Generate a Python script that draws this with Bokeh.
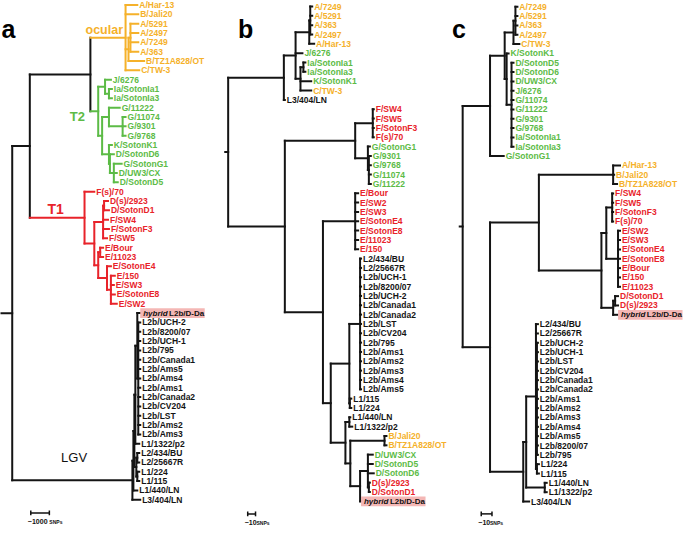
from bokeh.plotting import figure
from bokeh.models import ColumnDataSource, Range1d
from bokeh.core.properties import value
from bokeh.embed import file_html
from bokeh.resources import INLINE

# ---------------- data ----------------
OCULAR = ["A/Har-13", "B/Jali20", "A/5291", "A/2497", "A/7249", "A/363",
          "B/TZ1A828/OT", "C/TW-3"]
T2_STRAINS = ["J/6276", "Ia/SotonIa1", "Ia/SotonIa3", "G/11222", "G/11074",
              "G/9301", "G/9768", "K/SotonK1", "D/SotonD6", "G/SotonG1",
              "D/UW3/CX", "D/SotonD5"]
T1_STRAINS = ["F(s)/70", "D(s)/2923", "D/SotonD1", "F/SW4", "F/SotonF3",
              "F/SW5", "E/Bour", "E/11023", "E/SotonE4", "E/150", "E/SW3",
              "E/SotonE8", "E/SW2"]
HYBRID = "hybrid L2b/D-Da"

# Newick trees, branch lengths in tree units
TREE_A = (
    "(((('A/Har-13':12,'B/Jali20':13,(('A/5291':8,'A/2497':8,'A/7249':8,'A/363':8):2,'B/TZ1A828/OT':16):3,'C/TW-3':14):36,"
    "(('J/6276':6,('Ia/SotonIa1':3,'Ia/SotonIa3':3):4):7,(('G/11222':11,('G/11074':3,'G/9301':3,'G/9768':3):14):7,"
    "('K/SotonK1':3,('D/SotonD6':4,('G/SotonG1':8,'D/UW3/CX':3,'D/SotonD5':4):4):1):7):4):8):62,"
    "('F(s)/70':10,((('D(s)/2923':4,'D/SotonD1':5):1,'F/SW4':5,'F/SotonF3':6,'F/SW5':4):9,"
    "(('E/Bour':3,'E/11023':3):2,('E/SotonE4':4,('E/150':4,'E/SW3':3,'E/SotonE8':4,'E/SW2':6):4):9):4):10):56):18,"
    "((((('hybrid L2b/D-Da':3,('L2b/UCH-2':2,'L2b/8200/07':2,'L2b/UCH-1':2,'L2b/795':2,'L2b/Canada1':2,'L2b/Ams5':2,"
    "'L2b/Ams4':2,'L2b/Ams1':2,'L2b/Canada2':2,'L2b/CV204':2,'L2b/LST':2,'L2b/Ams2':2,'L2b/Ams3':2):1):2,'L1/1322/p2':4):1,"
    "(('L2/434/BU':2,'L2/25667R':2):1,('L1/224':2,'L1/115':2):1):2):1,'L1/440/LN':4):1,'L3/404/LN':8):123):12"
)
TREE_B = (
    "((((('A/7249':2,'A/5291':2,'A/363':2,'A/2497':2):1,'A/Har-13':5):14,'J/6276':7,"
    "(('Ia/SotonIa1':2,'Ia/SotonIa3':2):3,'K/SotonK1':11,'C/TW-3':11):5):12,'L3/404/LN':1):57,"
    "((('F/SW4':1,'F/SW5':1,'F/SotonF3':1,'F(s)/70':1):18,('G/SotonG1':2,('G/9301':2,'G/9768':2,'G/11074':2,'G/11222':2):1):13):72,"
    "(('E/Bour':3,'E/SW2':3,'E/SW3':3,'E/SotonE4':3,'E/SotonE8':3,'E/11023':3,'E/150':3):33,"
    "((('L2/434/BU':1,'L2/25667R':1,'L2b/UCH-1':1,'L2b/8200/07':1,'L2b/UCH-2':1,'L2b/Canada1':1,'L2b/Canada2':1,"
    "'L2b/LST':1,'L2b/CV204':1,'L2b/795':1,'L2b/Ams1':1,'L2b/Ams2':1,'L2b/Ams3':1,'L2b/Ams4':1,'L2b/Ams5':1):11,"
    "('L1/115':1.5,'L1/224':1.5):0.5):19,(('L1/440/LN':1,'L1/1322/p2':3):4,(('B/Jali20':2,'B/TZ1A828/OT':2):35,"
    "(('D/UW3/CX':5,'D/SotonD5':5,'D/SotonD6':6,('D(s)/2923':1,'D/SotonD1':1):1):8,'hybrid L2b/D-Da':1):10):5):15):8):39):58):3"
)
TREE_C = (
    "((((('A/7249':2,'A/5291':2,'A/363':2,'A/2497':2):2,'C/TW-3':6):9,('K/SotonK1':2,('D/SotonD5':2,'D/SotonD6':2,"
    "'D/UW3/CX':2,'J/6276':2,'G/11074':2,'G/11222':2,'G/9301':2,'G/9768':2,'Ia/SotonIa1':2,'Ia/SotonIa3':2):5):2):15,"
    "'G/SotonG1':14):28,((('A/Har-13':7,'B/Jali20':1,'B/TZ1A828/OT':4):76,((('F/SW4':1,'F/SW5':1,'F/SotonF3':1,'F(s)/70':1):6,"
    "('E/SW2':2,'E/SW3':2,'E/SotonE4':2,'E/SotonE8':2,'E/Bour':2,'E/150':2,'E/11023':2):12):5,"
    "(('D/SotonD1':3,'D(s)/2923':3):2,'hybrid L2b/D-Da':5):12):64):50,((('L2/434/BU':2,'L2/25667R':2,"
    "('L2b/UCH-2':1,'L2b/UCH-1':1,'L2b/LST':1,'L2b/CV204':1,'L2b/Canada1':1,'L2b/Canada2':1,'L2b/Ams1':1,'L2b/Ams2':1,"
    "'L2b/Ams3':1,'L2b/Ams4':1,'L2b/Ams5':1,'L2b/8200/07':1,'L2b/795':1):1,('L1/224':2,'L1/115':2):1):10,"
    "('L1/440/LN':2,'L1/1322/p2':2):19):3,'L3/404/LN':6):34):28):3"
)

SCALE_LEN = [19, 8, 11]
SCALE_TXT = ["~1000", "~10", "~10"]
PANEL_LETTERS = ["a", "b", "c"]
CLADE_LABELS = ["ocular", "T2", "T1", "LGV"]

# ---------------- styles ----------------
ORANGE = "#F5B12A"
GREEN = "#5CBB46"
RED = "#E8232A"
BLACK = "#141414"
FONT = "Liberation Sans"
LEAF_SIZE = "8.5px"
HYB_SIZE = "8px"


def parse_newick(s):
    s = s.strip().rstrip(";")
    pos = [0]

    def node():
        n = {"children": [], "name": None, "len": 0.0}
        if s[pos[0]] == "(":
            pos[0] += 1
            while True:
                n["children"].append(node())
                c = s[pos[0]]
                pos[0] += 1
                if c == ")":
                    break
        if pos[0] < len(s) and s[pos[0]] == "'":
            j = s.index("'", pos[0] + 1)
            n["name"] = s[pos[0] + 1:j]
            pos[0] = j + 1
        if pos[0] < len(s) and s[pos[0]] == ":":
            j = pos[0] + 1
            while j < len(s) and s[j] not in ",)":
                j += 1
            n["len"] = float(s[pos[0] + 1:j])
            pos[0] = j
        return n

    return node()


def leaf_color(name):
    if name in OCULAR:
        return ORANGE
    if name in T2_STRAINS:
        return GREEN
    if name in T1_STRAINS:
        return RED
    return BLACK


def layout(tree, x0, y0, dy, colored):
    root = parse_newick(tree)
    leaves = []

    def walk(n, px):
        n["px"] = px
        n["x"] = px + n["len"]
        if not n["children"]:
            n["y"] = y0 + dy * len(leaves)
            leaves.append(n)
            n["cols"] = {leaf_color(n["name"])}
        else:
            cols = set()
            for c in n["children"]:
                walk(c, n["x"])
                cols |= c["cols"]
            n["cols"] = cols
            n["y"] = (n["children"][0]["y"] + n["children"][-1]["y"]) / 2

    walk(root, x0)
    seg = dict(x0=[], y0=[], x1=[], y1=[], c=[])

    def emit(n):
        col = (list(n["cols"])[0] if (colored and len(n["cols"]) == 1) else BLACK)
        seg["x0"].append(n["px"]); seg["y0"].append(n["y"])
        seg["x1"].append(n["x"]); seg["y1"].append(n["y"]); seg["c"].append(col)
        if n["children"]:
            seg["x0"].append(n["x"]); seg["y0"].append(n["children"][0]["y"])
            seg["x1"].append(n["x"]); seg["y1"].append(n["children"][-1]["y"])
            seg["c"].append(col)
            for c in n["children"]:
                emit(c)

    emit(root)
    return seg, leaves


p = figure(width=683, height=526, x_range=Range1d(0, 699), y_range=Range1d(541, -1),
           output_backend="svg", toolbar_location=None, min_border=0,
           x_axis_type=None, y_axis_type=None)
p.grid.visible = False
p.outline_line_color = None

panels = [(TREE_A, 0, 3.6, 9.62, True), (TREE_B, 230, 5.2, 9.62, False),
          (TREE_C, 470, 5.4, 9.62, False)]
letter_x = [1, 243, 462]
scale_x = [31, 253, 492]
scale_y = [527, 528, 528]

for k, (tree, x0, y0, dy, colored) in enumerate(panels):
    seg, leaves = layout(tree, x0, y0, dy, colored)
    p.segment("x0", "y0", "x1", "y1", source=ColumnDataSource(seg), line_color="c",
              line_width=2.0, line_cap="square")
    txt = dict(x=[], y=[], t=[], c=[])
    for lf in leaves:
        if lf["name"] == HYBRID:
            hx, hy = lf["x"], lf["y"]
            p.quad(left=[hx], right=[hx + 66], bottom=[hy + 5], top=[hy - 5],
                   fill_color="#F4B7B5", line_color=None)
            p.text(x=[hx + 3], y=[hy], text=["hybrid"], text_color="#111111",
                   text_font=value(FONT), text_font_style="bold italic",
                   text_font_size=HYB_SIZE, text_baseline="middle")
            p.text(x=[hx + 29.5], y=[hy], text=["L2b/D-Da"], text_color="#111111",
                   text_font=value(FONT), text_font_style="bold",
                   text_font_size=HYB_SIZE, text_baseline="middle")
        else:
            txt["x"].append(lf["x"] + 2)
            txt["y"].append(lf["y"])
            txt["t"].append(lf["name"])
            txt["c"].append(leaf_color(lf["name"]))
    p.text("x", "y", text="t", text_color="c", source=ColumnDataSource(txt),
           text_font=value(FONT), text_font_style="bold", text_font_size=LEAF_SIZE,
           text_baseline="middle")
    # panel letter
    p.text(x=[letter_x[k]], y=[28], text=[PANEL_LETTERS[k]], text_color="#000000",
           text_font=value(FONT), text_font_style="bold", text_font_size="25px",
           text_baseline="alphabetic")
    # scale bar
    sx, sy, L = scale_x[k], scale_y[k], SCALE_LEN[k]
    p.segment(x0=[sx, sx, sx + L], y0=[sy, sy - 2.5, sy - 2.5],
              x1=[sx + L, sx, sx + L], y1=[sy, sy + 2.5, sy + 2.5],
              line_color="#111111", line_width=1.5)
    p.text(x=[sx - 3], y=[sy + 8.5], text=[SCALE_TXT[k]], text_color="#111111",
           text_font=value(FONT), text_font_style="bold", text_font_size="7px",
           text_baseline="middle")
    off = 22 if k == 0 else 12
    p.text(x=[sx - 3 + off], y=[sy + 9], text=["SNPs"], text_color="#111111",
           text_font=value(FONT), text_font_style="bold", text_font_size="5px",
           text_baseline="middle")

# clade labels (panel a)
p.text(x=[87], y=[29], text=[CLADE_LABELS[0]], text_color=ORANGE, text_font=value(FONT),
       text_font_style="bold", text_font_size="12.5px", text_baseline="alphabetic")
p.text(x=[71], y=[119], text=[CLADE_LABELS[1]], text_color=GREEN, text_font=value(FONT),
       text_font_style="bold", text_font_size="13px", text_baseline="alphabetic")
p.text(x=[48], y=[214], text=[CLADE_LABELS[2]], text_color=RED, text_font=value(FONT),
       text_font_style="bold", text_font_size="14px", text_baseline="alphabetic")
p.text(x=[62], y=[470], text=[CLADE_LABELS[3]], text_color="#111111", text_font=value(FONT),
       text_font_size="13px", text_baseline="alphabetic")

open("out.html", "w").write(file_html(p, INLINE))
